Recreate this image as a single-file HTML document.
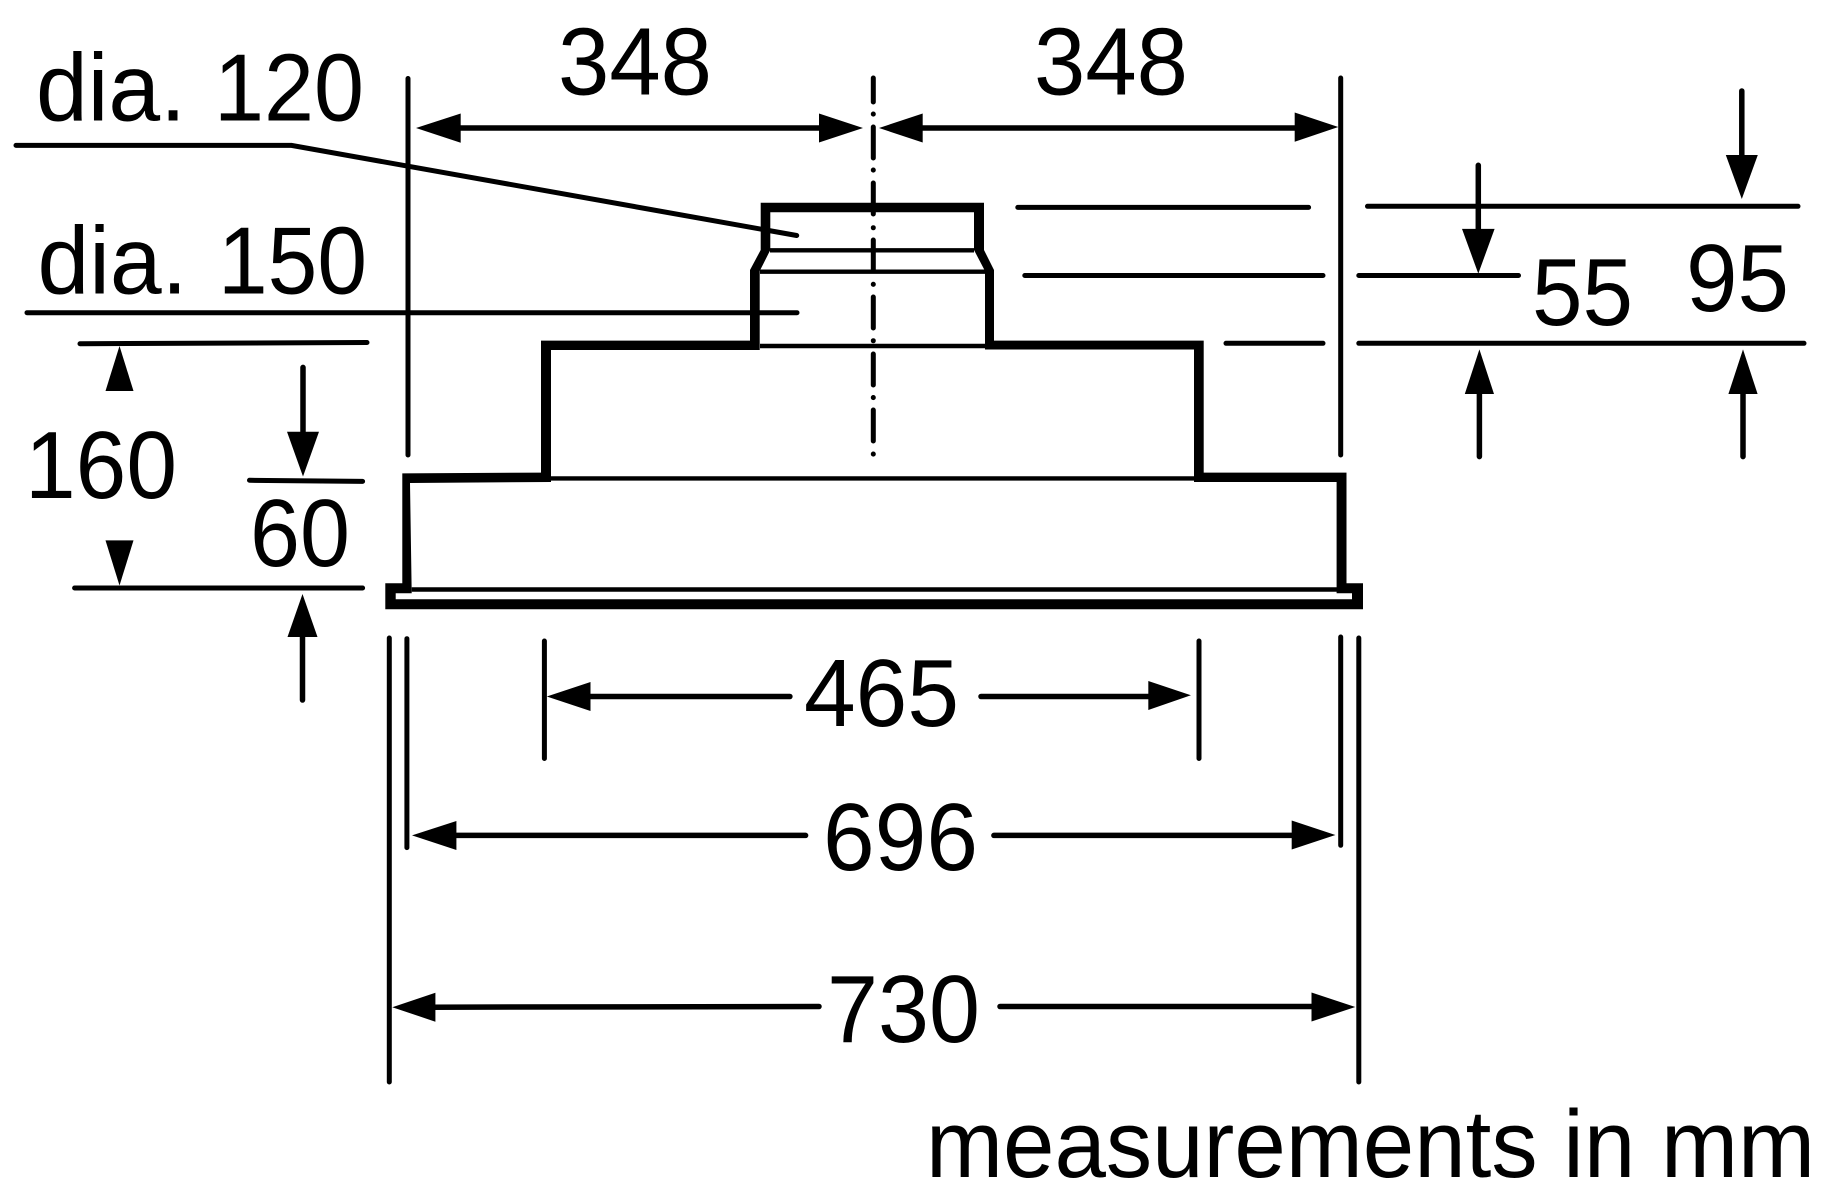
<!DOCTYPE html>
<html>
<head>
<meta charset="utf-8">
<title>Dimensions diagram</title>
<style>
html,body{margin:0;padding:0;background:#fff;}
svg{display:block;}
text{font-family:"Liberation Sans",sans-serif;font-size:96px;fill:#000;}
.t{stroke:#000;stroke-width:5;stroke-linecap:round;fill:none;}
.a{stroke:#000;stroke-width:5.5;stroke-linecap:round;fill:none;}
.s{stroke:#000;stroke-width:4.4;fill:none;}
</style>
</head>
<body>
<svg width="1828" height="1192" viewBox="0 0 1828 1192" xmlns="http://www.w3.org/2000/svg">
<rect width="1828" height="1192" fill="#fff"/>

<!-- body outline -->
<path fill="#000" fill-rule="evenodd" d="M760.7 202.7H984V250L994 270V340.6H1203.7V472.6H1346.5V583.3H1363V609.3H385.3V583.3H402.3V473.4L541 472.6V340.6H750V270L760.7 250Z
M770.3 212.3V250L759.7 271V350H551V482L410 483L411.7 593.3H395.7V599.3H1352V593.3H1336.6V482H1194V349.5H985V271L974 250V212.3Z"/>
<path class="s" d="M770 250.3H974M760 271.7H985M760 346H985M551 478.4H1194M411.7 589.5H1337"/>

<!-- center line -->
<path class="t" d="M873.3 78V102M873.3 114V114.1M873.3 127V158M873.3 170V170.1M873.3 183V214M873.3 227.7V227.8M873.3 240V271M873.3 284.3V284.4M873.3 297V328M873.3 340.7V340.8M873.3 354V385M873.3 397.5V397.6M873.3 410V441M873.3 454V454.1"/>

<!-- extension lines -->
<path class="t" d="M408 78.5V455M1340.7 78V455M389.3 638V1082M406.9 638.7V847.6M544.4 641V758.5M1199 641V758.5M1340.7 637V845.3M1358.8 638V1082"/>

<!-- leaders -->
<path class="t" d="M16 145.4H291.5L796.7 235.5M27 312.7H797"/>

<!-- horizontal reference lines -->
<path class="t" d="M80 343.7L367 342.5M249.5 480.3L362.6 481.4M74.6 588H362.6M1017.8 207.4H1308.6M1024.8 275.5H1323M1226 343.3H1323M1367.5 206.3H1798M1358.8 275.5H1518.5M1358.8 343.3H1804"/>

<!-- dimension shafts -->
<path class="a" d="M455 128H825M915 128H1300M303 367.4V440M302.5 630V700M1478.3 165.3V235M1741.8 91V160M1479.4 390V456.6M1743 390V456.6M585 696.5H789.9M981 696.5H1152M450 835.4H805.6M993.9 835.4H1296M430 1007.2L819 1006.5M1000 1006.5H1316"/>

<!-- arrowheads -->
<g fill="#000">
<polygon points="416,128 460.7,113.5 460.7,142.7"/>
<polygon points="863,128 819,113.5 819,142.5"/>
<polygon points="879,128 922.7,113.5 922.7,142.5"/>
<polygon points="1338.3,127 1294.7,112.5 1294.7,141.7"/>
<polygon points="119.5,346 105.5,391 133.5,391"/>
<polygon points="119.5,585.5 105.5,540.4 133.5,540.4"/>
<polygon points="303,476.5 287,431.7 319,431.7"/>
<polygon points="302.5,594 287.5,637 317.5,637"/>
<polygon points="1478.3,273.6 1462,228.9 1494.6,228.9"/>
<polygon points="1741.8,199 1725.8,155 1757.8,155"/>
<polygon points="1479.4,349.4 1464.8,394 1494,394"/>
<polygon points="1743,349.4 1728.4,394 1757.6,394"/>
<polygon points="546.8,696.5 590.5,682 590.5,711"/>
<polygon points="1190.9,695.3 1148.3,681 1148.3,710"/>
<polygon points="412,835.4 456.4,821 456.4,850"/>
<polygon points="1335.4,835 1291.7,820.5 1291.7,849.5"/>
<polygon points="392.3,1007.2 435.4,992.7 435.4,1021.7"/>
<polygon points="1355.3,1007 1311.5,992.5 1311.5,1021.5"/>
</g>

<!-- labels -->
<text x="36" y="120.5" textLength="150" lengthAdjust="spacingAndGlyphs">dia.</text>
<text x="214" y="120.5" textLength="150" lengthAdjust="spacingAndGlyphs">120</text>
<text x="37.5" y="293.5" textLength="150" lengthAdjust="spacingAndGlyphs">dia.</text>
<text x="218" y="293.5" textLength="149" lengthAdjust="spacingAndGlyphs">150</text>
<text x="558" y="94.5" textLength="154" lengthAdjust="spacingAndGlyphs">348</text>
<text x="1034" y="94.5" textLength="154" lengthAdjust="spacingAndGlyphs">348</text>
<text x="25" y="498" textLength="152" lengthAdjust="spacingAndGlyphs">160</text>
<text x="250" y="566" textLength="100" lengthAdjust="spacingAndGlyphs">60</text>
<text x="1532" y="325" textLength="101" lengthAdjust="spacingAndGlyphs">55</text>
<text x="1686" y="311" textLength="103" lengthAdjust="spacingAndGlyphs">95</text>
<text x="804" y="726" textLength="155" lengthAdjust="spacingAndGlyphs">465</text>
<text x="823" y="870" textLength="155" lengthAdjust="spacingAndGlyphs">696</text>
<text x="827" y="1042" textLength="153" lengthAdjust="spacingAndGlyphs">730</text>
<text x="926" y="1177" textLength="889" lengthAdjust="spacingAndGlyphs">measurements in mm</text>
</svg>
</body>
</html>
